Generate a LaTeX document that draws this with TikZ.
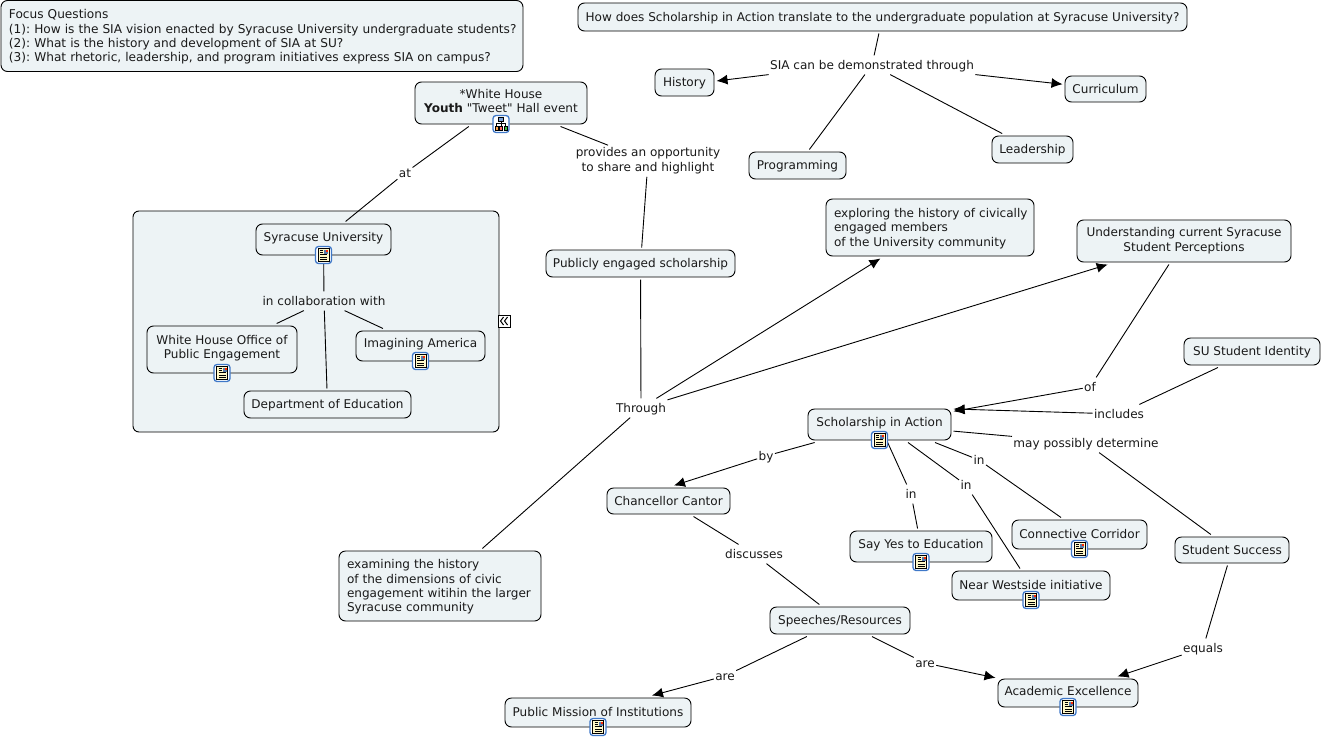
\documentclass[tikz,border=0pt]{standalone}
\usepackage{fontspec}
\setmainfont{DejaVu Sans}[Ligatures=TeXOff]
\usetikzlibrary{arrows.meta}
\definecolor{boxfill}{HTML}{EDF3F5}
\definecolor{iconblue}{HTML}{3F78C8}
\definecolor{iconpage}{HTML}{FFF8C8}
\definecolor{inktext}{HTML}{1A1A1A}
\newcommand{\iconpad}[1]{\\[#1pt]\mbox{}}
\tikzset{
  basefont/.style={font=\fontsize{12.05}{14.4}\selectfont\frenchspacing,text=inktext,execute at begin node={\rule[-3pt]{0pt}{14.2pt}}},
  cbox/.style={basefont,draw=black,fill=boxfill,line width=0.9pt,rounded corners=6.5pt,align=center,inner sep=0pt,outer sep=2.5pt},
  lefttext/.style={align=left,text width=#1,inner xsep=0pt},
  lab/.style={basefont,inner xsep=1.5pt,inner ysep=2.5pt,outer sep=0pt,align=center},
  conn/.style={draw=black,line width=0.9pt},
  arr/.style={conn,-{Latex[length=11pt,width=10pt]}},
  docicon/.pic={
    \draw[iconblue,fill=white,line width=1.3pt,rounded corners=3pt] (-8,-8.5) rectangle (8,8.5);
    \draw[black,fill=iconpage,line width=0.8pt] (-5.5,-6.5) rectangle (5.5,6.5);
    \fill[iconblue!60!gray] (0.5,-5.5) rectangle (4.5,-1.5);
    \fill[red!70!orange] (2.5,-5.5) rectangle (4.5,-3.5);
    \draw[black,line width=0.8pt] (-3.5,-4.5) -- (-0.5,-4.5) (-3.5,-2.5) -- (-0.5,-2.5) (-3.5,-0.3) -- (3.8,-0.3) (-3.5,2) -- (3.8,2) (-3.5,4.2) -- (3.8,4.2);
  },
  mapicon/.pic={
    \draw[iconblue,fill=white,line width=1.3pt,rounded corners=3pt] (-8,-8.5) rectangle (8,8.5);
    \draw[black,line width=0.7pt] (0,-3) -- (0,2.5) (-4.5,2.5) -- (-4.5,-0.5) -- (4.5,-0.5) -- (4.5,2.5);
    \draw[black,fill=iconblue!70,line width=0.6pt] (-2.5,-6.5) rectangle (2.5,-3);
    \draw[black,fill=orange!70,line width=0.6pt] (-6,2.5) rectangle (-3,6);
    \draw[black,fill=green!50!gray,line width=0.6pt] (3,2.5) rectangle (6,6);
    \draw[black,fill=red!60,line width=0.6pt] (-1.5,2.5) rectangle (1.5,6);
  },
}
\begin{document}
\begin{tikzpicture}[x=1pt,y=-1pt]
\fill[white] (0,0) rectangle (1322,739);
\useasboundingbox (0,0) rectangle (1322,739);

% container
\draw[draw=black,fill=boxfill,line width=0.9pt,rounded corners=6pt] (133,211) rectangle (499,432);

% boxes
\node[cbox,minimum width=522pt,minimum height=71pt,lefttext=506pt] (focus) at (262,36) {\fontsize{12.15}{14.4}\selectfont Focus Questions\\\mbox{(1): How is the SIA vision enacted by Syracuse University undergraduate students?}\\(2): What is the history and development of SIA at SU?\\\mbox{(3): What rhetoric, leadership, and program initiatives express SIA on campus?}};
\node[cbox,minimum width=609pt,minimum height=28pt] (mainq) at (882.5,17) {How does Scholarship in Action translate to the undergraduate population at Syracuse University?};
\node[cbox,minimum width=59pt,minimum height=27pt] (history) at (684.5,82.5) {History};
\node[cbox,minimum width=81pt,minimum height=26pt] (curric) at (1105.5,89) {Curriculum};
\node[cbox,minimum width=97pt,minimum height=27pt] (program) at (797.5,165.5) {Programming};
\node[cbox,minimum width=81pt,minimum height=27pt] (leader) at (1032.5,149.5) {Leadership};
\node[cbox,minimum width=172pt,minimum height=42pt] (wh) at (501,103) {*White House\\\textbf{Youth} "Tweet" Hall event\iconpad{-13.4}};
\node[cbox,minimum width=189pt,minimum height=27pt] (public) at (640.5,263.5) {Publicly engaged scholarship};
\node[cbox,minimum width=135pt,minimum height=31pt] (syr) at (323.5,239.5) {Syracuse University\iconpad{-11.4}};
\node[cbox,minimum width=150pt,minimum height=47pt] (whope) at (222,349.5) {White House Office of\\Public Engagement\iconpad{-12.4}};
\node[cbox,minimum width=129pt,minimum height=30pt] (imag) at (420.5,346) {Imagining America\iconpad{-10.4}};
\node[cbox,minimum width=167pt,minimum height=27pt] (dept) at (327.5,404.5) {Department of Education};
\node[cbox,minimum width=208pt,minimum height=57pt,lefttext=192pt] (explor) at (930,227.5) {\mbox{exploring the history of civically}\\engaged members\\of the University community};
\node[cbox,minimum width=214pt,minimum height=42pt] (underst) at (1184,241) {Understanding current Syracuse\\Student Perceptions};
\node[cbox,minimum width=136pt,minimum height=27pt] (identity) at (1252,351.5) {SU Student Identity};
\node[cbox,minimum width=143pt,minimum height=31pt] (schol) at (879.5,424.5) {Scholarship in Action\iconpad{-12.4}};
\node[cbox,minimum width=123pt,minimum height=26pt] (cantor) at (668.5,501) {Chancellor Cantor};
\node[cbox,minimum width=142pt,minimum height=31pt] (sayyes) at (921,546.5) {Say Yes to Education\iconpad{-12.4}};
\node[cbox,minimum width=135pt,minimum height=29pt] (corridor) at (1079.5,534.5) {Connective Corridor\iconpad{-14.4}};
\node[cbox,minimum width=158pt,minimum height=29pt] (westside) at (1031,585.5) {Near Westside initiative\iconpad{-14.4}};
\node[cbox,minimum width=114pt,minimum height=26pt] (success) at (1232,550) {Student Success};
\node[cbox,minimum width=140pt,minimum height=27pt] (speech) at (840,620.5) {Speeches/Resources};
\node[cbox,minimum width=202pt,minimum height=70pt,lefttext=186pt] (examin) at (440,586) {examining the history\\of the dimensions of civic\\\mbox{engagement witihin the larger}\\Syracuse community};
\node[cbox,minimum width=186pt,minimum height=29pt] (mission) at (598,712.5) {Public Mission of Institutions\iconpad{-14.4}};
\node[cbox,minimum width=140pt,minimum height=28pt] (academic) at (1068,693) {Academic Excellence\iconpad{-12.4}};

% linking phrases
\node[lab] (sia) at (872,65) {SIA can be demonstrated through};
\node[lab] (at) at (405,173) {at};
\node[lab] (provides) at (648,161) {provides an opportunity\\to share and highlight};
\node[lab] (collab) at (324,301) {in collaboration with};
\node[lab] (through) at (641,408) {Through};
\node[lab] (of) at (1090,387) {of};
\node[lab] (includes) at (1119,414) {includes};
\node[lab] (may) at (1086,443) {may possibly determine};
\node[lab] (by) at (766,456) {by};
\node[lab] (in1) at (979,460) {in};
\node[lab] (in2) at (966,485) {in};
\node[lab] (in3) at (911,494) {in};
\node[lab] (discuss) at (754,554) {discusses};
\node[lab] (are1) at (725,676) {are};
\node[lab] (are2) at (925,663) {are};
\node[lab] (equals) at (1203,648) {equals};

% connectors
\draw[conn] (mainq) -- (sia);
\draw[arr] (sia.south west) -- ([yshift=1.5pt]history.east);
\draw[arr] (sia.south east) -- (curric);
\draw[conn] (sia) -- (program);
\draw[conn] (sia) -- (leader);
\draw[conn] (wh) -- (at);
\draw[conn] (at) -- (syr);
\draw[conn] (wh) -- (provides);
\draw[conn] (provides) -- (public);
\draw[conn] (public) -- (through);
\draw[arr] (through) -- (explor);
\draw[arr] (through) -- (underst);
\draw[conn] (through) -- (examin);
\draw[conn] (syr) -- (collab);
\draw[conn] (collab) -- (whope);
\draw[conn] (collab) -- (imag);
\draw[conn] (collab) -- (dept);
\draw[conn] (underst) -- (of);
\draw[arr] (of) -- (schol);
\draw[conn] (identity) -- (includes);
\draw[arr] (includes) -- ([yshift=-2.5pt]schol.north east);
\draw[conn] (schol) -- (may);
\draw[conn] (may) -- (success);
\draw[conn] (schol) -- (by);
\draw[arr] (by) -- ([xshift=5.5pt]cantor.north);
\draw[conn] ([xshift=55.5pt]schol.south) -- (in1);
\draw[conn] (in1) -- ([xshift=-18.5pt]corridor.north);
\draw[conn] ([xshift=28.5pt]schol.south) -- (in2);
\draw[conn] (in2) -- (westside);
\draw[conn] (schol) -- (in3);
\draw[conn] (in3) -- (sayyes);
\draw[conn] (cantor) -- (discuss);
\draw[conn] (discuss) -- (speech);
\draw[conn] (speech) -- (are1);
\draw[arr] (are1) -- ([xshift=54pt]mission.north);
\draw[conn] (speech) -- (are2);
\draw[arr] (are2) -- (academic);
\draw[conn] (success) -- (equals);
\draw[arr] (equals) -- (academic);

% icons
\pic at ([yshift=2.5pt]wh.south) {mapicon};
\foreach \n in {syr,whope,imag,schol,sayyes,corridor,westside,mission,academic} \pic at ([yshift=2.5pt]\n.south) {docicon};

% collapse mark
\draw[black,fill=white,line width=0.9pt] (498,315) rectangle (510,327);
\draw[black,line width=1pt] (503.5,317) -- (500.5,321) -- (503.5,325) (507.5,317) -- (504.5,321) -- (507.5,325);
\end{tikzpicture}
\end{document}
